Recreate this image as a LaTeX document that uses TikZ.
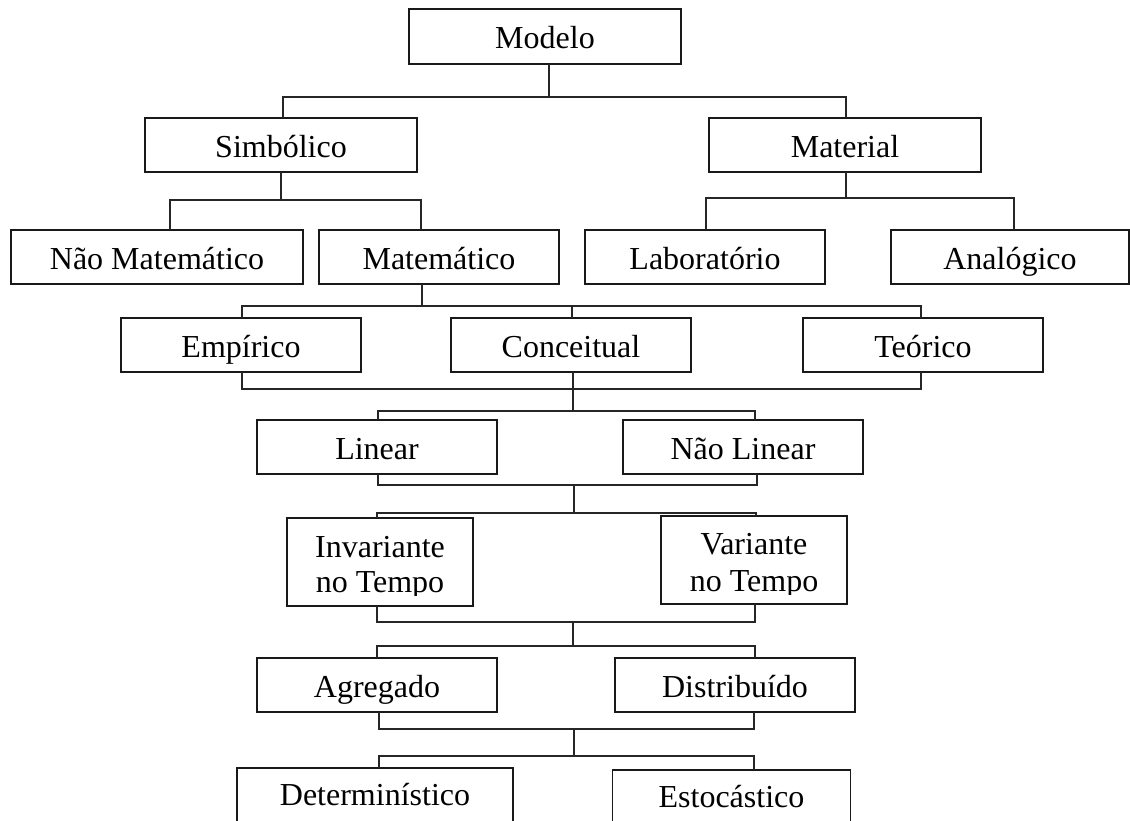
\documentclass[tikz,border=0pt]{standalone}
\usepackage{fontspec}
\setmainfont{Liberation Serif}
\usetikzlibrary{calc}
\begin{document}
\begin{tikzpicture}[x=1pt,y=-1pt,
  box/.style={draw=black!90, line width=1.5pt, inner sep=0pt, outer sep=0pt,
    minimum height=54pt, minimum width=240pt, text height=24pt, text depth=0pt,
    font=\fontsize{32}{35}\selectfont},
  conn/.style={line width=2.2pt, draw=black!85},
  txt/.style={inner sep=0pt, outer sep=0pt, font=\fontsize{32}{35}\selectfont}]
\useasboundingbox (0,0) rectangle (1130,820);
\clip (0,0) rectangle (1130,820);

% boxes
\node[box, minimum width=272pt, minimum height=55pt] (modelo) at (545,36.5) {Modelo};
\node[box, minimum width=272pt] (simb) at (281,145) {Simbólico};
\node[box, minimum width=272pt] (mater) at (845,145) {Material};
\node[box, minimum width=292pt] (naomat) at (157,257) {Não Matemático};
\node[box] (mat) at (439,257) {Matemático};
\node[box] (lab) at (705,257) {Laboratório};
\node[box, minimum width=238pt] (anal) at (1010,257) {Analógico};
\node[box] (emp) at (241,345) {Empírico};
\node[box] (conc) at (571,345) {Conceitual};
\node[box] (teor) at (923,345) {Teórico};
\node[box] (lin) at (377,447) {Linear};
\node[box] (nlin) at (743,447) {Não Linear};
\node[box, minimum width=186pt, minimum height=88pt] (inv) at (380,562) {};
\node[box, minimum width=186pt, minimum height=88pt] (var) at (754,560) {};
\node[box] (agr) at (377,685) {Agregado};
\node[box] (dist) at (735,685) {Distribuído};
\node[box, minimum width=276pt, minimum height=70pt, anchor=north, text depth=19pt] (det) at (375,768) {Determinístico};
\node[box, minimum width=238pt, minimum height=70pt, anchor=north, text depth=19pt] (est) at (731.5,770) {Estocástico};

% two-line texts, clipped at the bottom as in the original
\begin{scope}
\clip (inv.north west) rectangle ($(inv.south east)+(0,-11)$);
\node[txt, anchor=base] (invA) at (380,557) {Invariante};
\node[txt, anchor=base] (invB) at (380,592) {no Tempo};
\end{scope}
\begin{scope}
\clip (var.north west) rectangle ($(var.south east)+(0,-10)$);
\node[txt, anchor=base] (varA) at (754,554) {Variante};
\node[txt, anchor=base] (varB) at (754,591) {no Tempo};
\end{scope}

% Modelo -> Simbolico, Material
\coordinate (y1) at (0,97);
\coordinate (mS) at ([xshift=4pt]modelo.south);
\coordinate (simbN) at ([xshift=2pt]simb.north);
\coordinate (materN) at ([xshift=1pt]mater.north);
\draw[conn] (mS) -- (mS |- y1);
\draw[conn] (simbN) |- (materN |- y1) -- (materN);

% Simbolico -> Nao Matematico, Matematico
\coordinate (y2) at (0,200);
\coordinate (naomatN) at ([xshift=13pt]naomat.north);
\coordinate (matN) at ([xshift=-18pt]mat.north);
\draw[conn] (simb.south) -- (simb.south |- y2);
\draw[conn] (naomatN) |- (matN |- y2) -- (matN);

% Material -> Laboratorio, Analogico
\coordinate (y3) at (0,198);
\coordinate (materS) at ([xshift=1pt]mater.south);
\coordinate (labN) at ([xshift=1pt]lab.north);
\coordinate (analN) at ([xshift=4pt]anal.north);
\draw[conn] (materS) -- (materS |- y3);
\draw[conn] (labN) |- (analN |- y3) -- (analN);

% Matematico -> Empirico, Conceitual, Teorico
\coordinate (y4) at (0,306);
\coordinate (matS) at ([xshift=-17pt]mat.south);
\coordinate (empN) at ([xshift=1pt]emp.north);
\coordinate (concN) at ([xshift=1pt]conc.north);
\coordinate (teorN) at ([xshift=-2pt]teor.north);
\draw[conn] (matS) -- (matS |- y4);
\draw[conn] (empN) |- (teorN |- y4) -- (teorN);
\draw[conn] (concN) -- (concN |- y4);

% Empirico, Conceitual, Teorico -> Linear, Nao Linear
\coordinate (y5) at (0,389);
\coordinate (y6) at (0,411);
\coordinate (empS) at ([xshift=1pt]emp.south);
\coordinate (concS) at ([xshift=2pt]conc.south);
\coordinate (teorS) at ([xshift=-2pt]teor.south);
\draw[conn] (empS) |- (teorS |- y5) -- (teorS);
\draw[conn] (concS) -- (concS |- y6);
\coordinate (linN) at ([xshift=1pt]lin.north);
\coordinate (nlinN) at ([xshift=12pt]nlin.north);
\draw[conn] (linN) |- (nlinN |- y6) -- (nlinN);

% Linear, Nao Linear -> Invariante, Variante
\coordinate (y7) at (0,485);
\coordinate (y8) at (0,513);
\coordinate (linS) at ([xshift=1pt]lin.south);
\coordinate (nlinS) at ([xshift=14pt]nlin.south);
\draw[conn] (linS) |- (nlinS |- y7) -- (nlinS);
\coordinate (mid1) at (574,0);
\draw[conn] (mid1 |- y7) -- (mid1 |- y8);
\coordinate (invN) at ([xshift=-3pt]inv.north);
\coordinate (varN) at ([xshift=2pt]var.north);
\draw[conn] (invN) |- (varN |- y8) -- (varN);

% Invariante, Variante -> Agregado, Distribuido
\coordinate (y9) at (0,622);
\coordinate (y10) at (0,646);
\coordinate (invS) at ([xshift=-3pt]inv.south);
\coordinate (varS) at ([xshift=1pt]var.south);
\draw[conn] (invS) |- (varS |- y9) -- (varS);
\coordinate (mid2) at (573,0);
\draw[conn] (mid2 |- y9) -- (mid2 |- y10);
\coordinate (agrN) at (agr.north);
\coordinate (distN) at ([xshift=20pt]dist.north);
\draw[conn] (agrN) |- (distN |- y10) -- (distN);

% Agregado, Distribuido -> Deterministico, Estocastico
\coordinate (y11) at (0,729);
\coordinate (y12) at (0,756);
\coordinate (agrS) at ([xshift=2pt]agr.south);
\coordinate (distS) at ([xshift=19pt]dist.south);
\draw[conn] (agrS) |- (distS |- y11) -- (distS);
\coordinate (mid3) at (574,0);
\draw[conn] (mid3 |- y11) -- (mid3 |- y12);
\coordinate (detN) at ([xshift=4pt]det.north);
\coordinate (estN) at ([xshift=22.5pt]est.north);
\draw[conn] (detN) |- (estN |- y12) -- (estN);
\end{tikzpicture}
\end{document}
